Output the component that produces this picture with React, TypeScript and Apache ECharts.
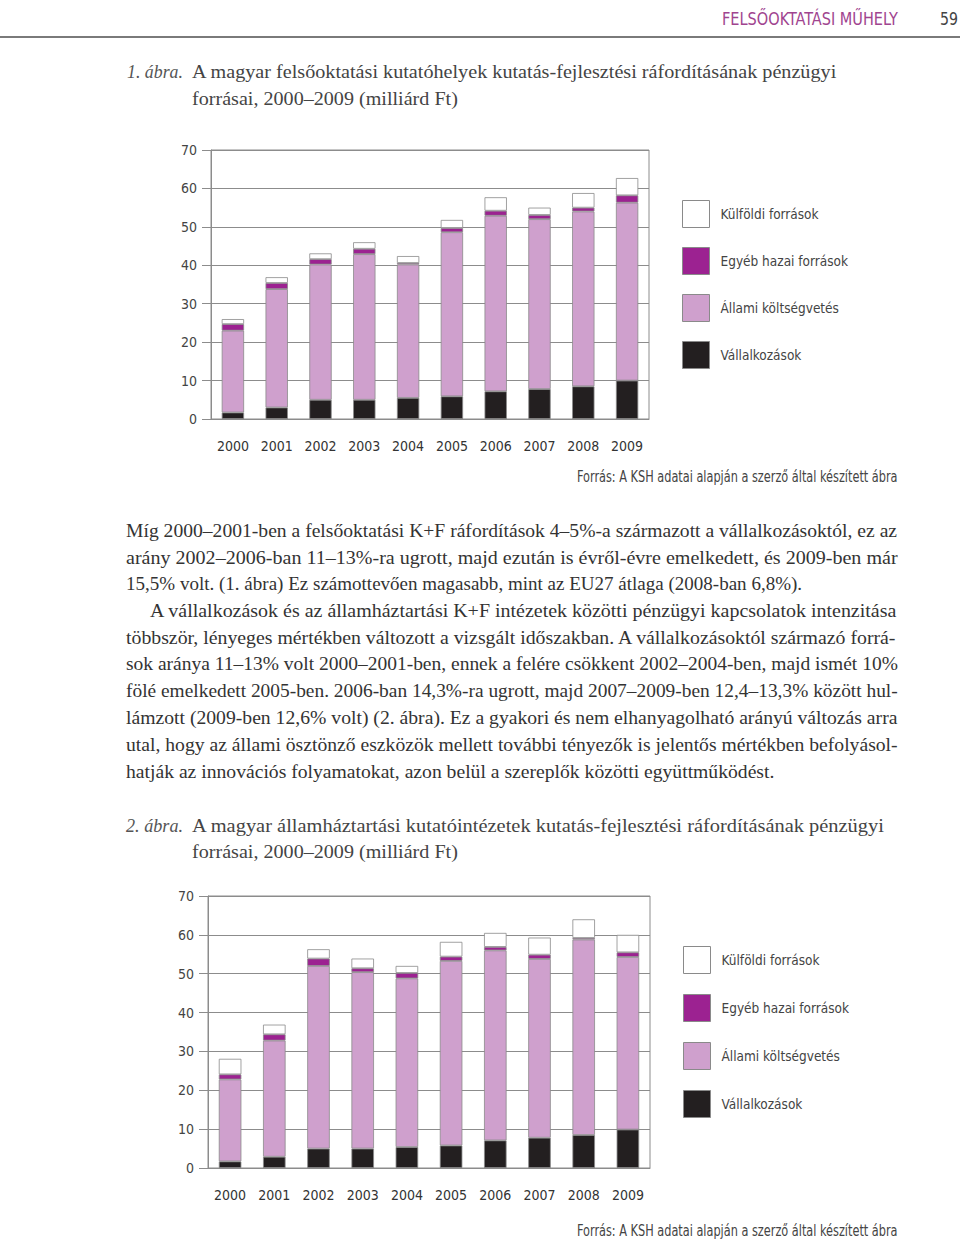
import React, { useEffect, useRef } from "react";
import * as echarts from "echarts";

const years = ["2000", "2001", "2002", "2003", "2004", "2005", "2006", "2007", "2008", "2009"];
const seriesNames = ["Vállalkozások", "Állami költségvetés", "Egyéb hazai források", "Külföldi források"];
const legendOrder = ["Külföldi források", "Egyéb hazai források", "Állami költségvetés", "Vállalkozások"];
const yTicks = [0, 70, 10]; // min, max, interval

// 1. ábra – felsőoktatási kutatóhelyek
const vall1 = [1.7, 3.0, 5.0, 5.0, 5.5, 5.9, 7.2, 7.8, 8.5, 10.0];
const allami1 = [21.3, 30.8, 35.2, 37.9, 34.7, 42.7, 45.7, 44.2, 45.5, 46.3];
const egyeb1 = [1.7, 1.6, 1.4, 1.4, 0.4, 1.1, 1.3, 1.1, 1.0, 1.9];
const kulfoldi1 = [1.3, 1.5, 1.5, 1.7, 1.8, 2.1, 3.5, 1.9, 3.8, 4.5];

// 2. ábra – államháztartási kutatóintézetek
const vall2 = [1.7, 2.9, 5.0, 5.0, 5.4, 5.8, 7.1, 7.8, 8.5, 9.9];
const allami2 = [21.1, 29.9, 47.0, 45.4, 43.4, 47.5, 48.9, 46.0, 50.3, 44.4];
const egyeb2 = [1.3, 1.6, 1.9, 1.0, 1.4, 1.1, 0.9, 1.1, 0.4, 1.2];
const kulfoldi2 = [4.0, 2.5, 2.4, 2.5, 1.8, 3.8, 3.6, 4.4, 4.8, 4.5];

const headerTitle = "FELSŐOKTATÁSI MŰHELY";
const pageNumber = "59";
const caption1Label = "1. ábra.";
const caption1Lines = [
  "A magyar felsőoktatási kutatóhelyek kutatás-fejlesztési ráfordításának pénzügyi",
  "forrásai, 2000–2009 (milliárd Ft)",
];
const caption2Label = "2. ábra.";
const caption2Lines = [
  "A magyar államháztartási kutatóintézetek kutatás-fejlesztési ráfordításának pénzügyi",
  "forrásai, 2000–2009 (milliárd Ft)",
];
const sourceText = "Forrás: A KSH adatai alapján a szerző által készített ábra";
const bodyLines = [
  "Míg 2000–2001-ben a felsőoktatási K+F ráfordítások 4–5%-a származott a vállalkozásoktól, ez az",
  "arány 2002–2006-ban 11–13%-ra ugrott, majd ezután is évről-évre emelkedett, és 2009-ben már",
  "15,5% volt. (1. ábra) Ez számottevően magasabb, mint az EU27 átlaga (2008-ban 6,8%).",
  "A vállalkozások és az államháztartási K+F intézetek közötti pénzügyi kapcsolatok intenzitása",
  "többször, lényeges mértékben változott a vizsgált időszakban. A vállalkozásoktól származó forrá-",
  "sok aránya 11–13% volt 2000–2001-ben, ennek a felére csökkent 2002–2004-ben, majd ismét 10%",
  "fölé emelkedett 2005-ben. 2006-ban 14,3%-ra ugrott, majd 2007–2009-ben 12,4–13,3% között hul-",
  "lámzott (2009-ben 12,6% volt) (2. ábra). Ez a gyakori és nem elhanyagolható arányú változás arra",
  "utal, hogy az állami ösztönző eszközök mellett további tényezők is jelentős mértékben befolyásol-",
  "hatják az innovációs folyamatokat, azon belül a szereplők közötti együttműködést.",
];

// layout (positions only)
const bodyLayout = [
  { x: 126, y: 531, end: 898 },
  { x: 126, y: 558, end: 898 },
  { x: 126, y: 584, end: 802 },
  { x: 150, y: 611, end: 898 },
  { x: 126, y: 638, end: 898 },
  { x: 126, y: 664, end: 898 },
  { x: 126, y: 691, end: 898 },
  { x: 126, y: 718, end: 898 },
  { x: 126, y: 745, end: 898 },
  { x: 126, y: 772, end: 775 },
];

const SERIF = '"Liberation Serif", "DejaVu Serif", serif';
const COND = '"Liberation Sans Narrow", "DejaVu Sans Condensed", "Roboto Condensed", "Arial Narrow", Roboto, sans-serif';

const COLORS = {
  vall: "#231f20",
  allami: "#cfa0cd",
  egyeb: "#9c2291",
  kulfoldi: "#ffffff",
};

let measureCtx: CanvasRenderingContext2D | null = null;
function measure(text: string, font: string): number {
  if (!measureCtx) measureCtx = document.createElement("canvas").getContext("2d");
  measureCtx!.font = font;
  return measureCtx!.measureText(text).width;
}

function fitText(
  text: string,
  x: number,
  y: number,
  end: number,
  size: number,
  family: string,
  fill: string,
  italic = false
) {
  const font = `${italic ? "italic " : ""}${size}px ${family}`;
  const w = measure(text, font);
  const scaleX = w > 0 ? (end - x) / w : 1;
  return {
    type: "text",
    x,
    y,
    scaleX,
    silent: true,
    style: {
      text,
      fontSize: size,
      fontFamily: family,
      fontStyle: italic ? "italic" : "normal",
      fill,
      align: "left",
      verticalAlign: "middle",
    },
  };
}

export default function App() {
  const ref = useRef<HTMLDivElement>(null);

  useEffect(() => {
    document.body.style.margin = "0";
    const chart = echarts.init(ref.current!, null, { renderer: "svg" });

    const grids = [
      { left: 211, top: 150, width: 438, height: 269 },
      { left: 208, top: 896, width: 442, height: 272 },
    ];

    const axisColor = "#8c8c8c";
    const labelColor = "#444";

    const xAxes = grids.map((_, i) => ({
      type: "category",
      gridIndex: i,
      data: years,
      axisLine: { show: true, lineStyle: { color: axisColor, width: 1 } },
      axisTick: { show: false },
      axisLabel: { color: "#333", fontSize: 14, fontFamily: COND, margin: 20, interval: 0 },
    }));
    const yAxes = grids.map((_, i) => ({
      type: "value",
      gridIndex: i,
      min: yTicks[0],
      max: yTicks[1],
      interval: yTicks[2],
      axisLine: { show: true, lineStyle: { color: axisColor, width: 1 } },
      axisTick: { show: true, length: 9, lineStyle: { color: axisColor } },
      splitLine: { show: true, lineStyle: { color: axisColor, width: 1 } },
      axisLabel: { color: labelColor, fontSize: 14, fontFamily: COND, margin: 14 },
    }));

    const mk = (name: string, data: number[], color: string, idx: number) => ({
      type: "bar",
      name,
      data,
      stack: "s" + idx,
      xAxisIndex: idx,
      yAxisIndex: idx,
      barWidth: "51%",
      itemStyle: { color, borderColor: "#8a8a8a", borderWidth: 0.8 },
      emphasis: { disabled: true },
    });

    const series = [
      mk(seriesNames[0], vall1, COLORS.vall, 0),
      mk(seriesNames[1], allami1, COLORS.allami, 0),
      mk(seriesNames[2], egyeb1, COLORS.egyeb, 0),
      mk(seriesNames[3], kulfoldi1, COLORS.kulfoldi, 0),
      mk(seriesNames[0], vall2, COLORS.vall, 1),
      mk(seriesNames[1], allami2, COLORS.allami, 1),
      mk(seriesNames[2], egyeb2, COLORS.egyeb, 1),
      mk(seriesNames[3], kulfoldi2, COLORS.kulfoldi, 1),
    ];

    const legendBase = {
      orient: "vertical",
      data: legendOrder,
      icon: "rect",
      itemWidth: 27,
      itemHeight: 27,
      padding: 0,
      selectedMode: false,
      itemStyle: { borderColor: "#8a8a8a", borderWidth: 1 },
      textStyle: { color: labelColor, fontSize: 13.5, fontFamily: COND, padding: [0, 0, 0, 6] },
    };

    const graphic: any[] = [
      fitText(headerTitle, 722, 19, 898, 18, COND, "#a0448f"),
      fitText(pageNumber, 940, 19, 958, 18, COND, "#444"),
      {
        type: "line",
        silent: true,
        shape: { x1: 0, y1: 37, x2: 960, y2: 37 },
        style: { stroke: "#7a7a7a", lineWidth: 2 },
      },
      fitText(caption1Label, 127, 72, 183, 18, SERIF, "#555", true),
      fitText(caption1Lines[0], 192, 72, 838, 18, SERIF, "#444"),
      fitText(caption1Lines[1], 192, 99, 458, 18, SERIF, "#444"),
      fitText(sourceText, 577, 477, 898, 15, COND, "#444"),
      fitText(caption2Label, 126, 826, 183, 18, SERIF, "#555", true),
      fitText(caption2Lines[0], 192, 826, 885, 18, SERIF, "#444"),
      fitText(caption2Lines[1], 192, 852, 458, 18, SERIF, "#444"),
      fitText(sourceText, 577, 1231, 898, 15, COND, "#444"),
      ...bodyLines.map((t, i) =>
        fitText(t, bodyLayout[i].x, bodyLayout[i].y, bodyLayout[i].end, 18, SERIF, "#333")
      ),
    ];

    chart.setOption({
      animation: false,
      backgroundColor: "#ffffff",
      grid: grids.map((g) => ({
        ...g,
        show: true,
        borderColor: axisColor,
        borderWidth: 1,
        backgroundColor: "transparent",
        containLabel: false,
      })),
      xAxis: xAxes,
      yAxis: yAxes,
      legend: [
        { ...legendBase, left: 682, top: 200, itemGap: 19 },
        { ...legendBase, left: 683, top: 946, itemGap: 20 },
      ],
      series,
      graphic,
    });

    return () => chart.dispose();
  }, []);

  return (
    <div
      ref={ref}
      style={{ position: "absolute", left: 0, top: 0, width: 960, height: 1241 }}
    />
  );
}
